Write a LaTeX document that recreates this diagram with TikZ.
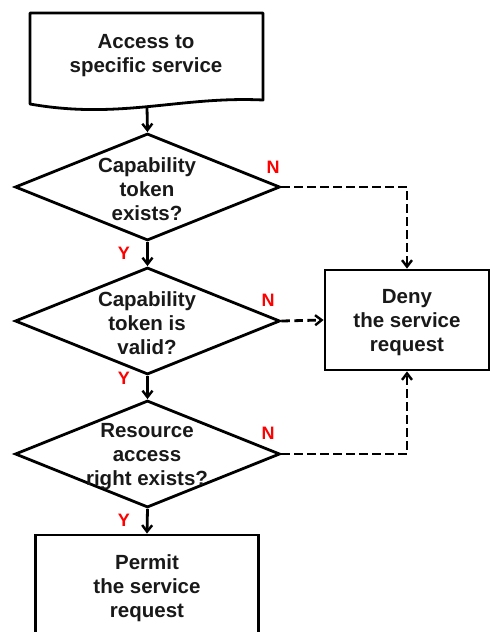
\documentclass[tikz,border=0pt]{standalone}
\usepackage{fontspec}
\setmainfont{Liberation Sans}
\usetikzlibrary{shapes.geometric,arrows.meta}
\begin{document}
\begin{tikzpicture}[x=1pt,y=-1pt,
  every node/.style={font=\fontsize{20.5}{24}\selectfont\bfseries},
  outline/.style={draw=black,line width=2.8pt},
  dia/.style={outline,shape=diamond,minimum width=265pt,minimum height=107pt,inner sep=0pt},
  boxnode/.style={outline,rectangle,inner sep=0pt},
  txt/.style={align=center,inner sep=0pt,text=black!90},
  yn/.style={text=red,font=\fontsize{18}{20}\selectfont\bfseries,inner sep=0pt},
  flow/.style={line width=2.8pt,-{Straight Barb[length=6.5pt,width=10pt,line width=2.4pt]}},
  dflow/.style={flow,dash pattern=on 8.5pt off 4.5pt}]
\useasboundingbox (0,0) rectangle (491,632);
\begin{scope}
\clip (0,0) rectangle (491,632);
% start document shape
\draw[outline,line join=round] (30,13) -- (263,13) -- (263,100)
  .. controls (180,96) and (120,120) .. (30,104) -- cycle;
\node[txt] (start) at (146,56) {Access to\\specific service};
\coordinate (startb) at (147,107);
% diamonds
\node[dia] (d1) at (147.5,187) {};
\node[txt] (t1) at (147,189) {Capability\\token\\exists?};
\node[dia] (d2) at (147.5,321) {};
\node[txt] (t2) at (147,323) {Capability\\token is\\valid?};
\node[dia] (d3) at (147.5,454) {};
\node[txt] (t3) at (147,457) {Resource\\access\\right exists?};
% boxes
\node[boxnode,minimum width=164pt,minimum height=100pt] (deny) at (407,320) {};
\node[txt] (tdeny) at (407,323) {Deny\\the service\\request};
\node[boxnode,minimum width=223pt,minimum height=130pt] (permit) at (147,600) {};
\node[txt] (tpermit) at (147,588) {Permit\\the service\\request};
% flows
\draw[flow] (startb) -- (d1.north);
\draw[flow] (d1.south) -- (d2.north);
\draw[flow] (d2.south) -- (d3.north);
\draw[flow] (d3.south) -- (permit.north);
\draw[dflow] (d1.east) -| (deny.north);
\draw[dflow] (d2.east) -- (deny.west);
\draw[dflow] (d3.east) -| (deny.south);
% labels
\node[yn] (n1) at (273,167) {N};
\node[yn] (n2) at (268,300) {N};
\node[yn] (n3) at (268,433) {N};
\node[yn] (y1) at (124,253) {Y};
\node[yn] (y2) at (124,378) {Y};
\node[yn] (y3) at (124,520) {Y};
\end{scope}
\end{tikzpicture}
\end{document}
